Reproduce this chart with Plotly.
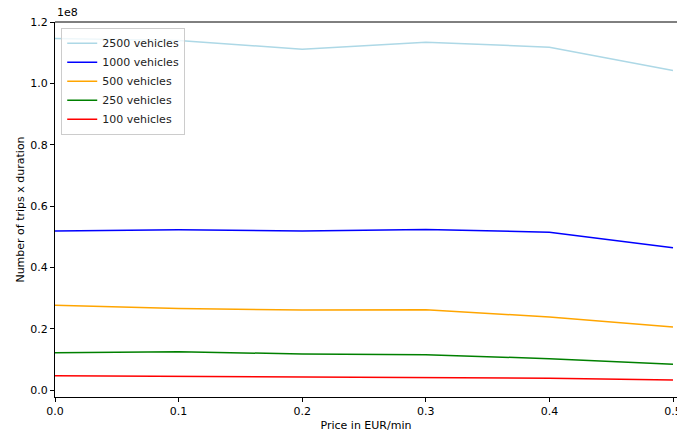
import plotly.graph_objects as go

prices = [0.0, 0.1, 0.2, 0.3, 0.4, 0.5]
series_names = ["2500 vehicles", "1000 vehicles", "500 vehicles", "250 vehicles", "100 vehicles"]
series_colors = ["lightblue", "blue", "orange", "green", "red"]
v2500 = [1.146e8, 1.140e8, 1.111e8, 1.134e8, 1.118e8, 1.042e8]
v1000 = [0.519e8, 0.523e8, 0.519e8, 0.524e8, 0.515e8, 0.464e8]
v500 = [0.277e8, 0.266e8, 0.2614e8, 0.2624e8, 0.2386e8, 0.206e8]
v250 = [0.1224e8, 0.1257e8, 0.118e8, 0.1159e8, 0.1029e8, 0.0846e8]
v100 = [0.0475e8, 0.0455e8, 0.042e8, 0.042e8, 0.039e8, 0.0335e8]
series_values = [v2500, v1000, v500, v250, v100]

yticks = [0.0, 0.2e8, 0.4e8, 0.6e8, 0.8e8, 1.0e8, 1.2e8]
ytick_labels = ["0.0", "0.2", "0.4", "0.6", "0.8", "1.0", "1.2"]
xticks = [0.0, 0.1, 0.2, 0.3, 0.4, 0.5]
xtick_labels = ["0.0", "0.1", "0.2", "0.3", "0.4", "0.5"]

fig = go.Figure()
for name, color, vals in zip(series_names, series_colors, series_values):
    fig.add_trace(go.Scatter(x=prices, y=vals, mode="lines", name=name,
                             line=dict(color=color, width=1.5)))

font = dict(family="DejaVu Sans", size=11, color="black")
fig.update_layout(
    width=677, height=435,
    margin=dict(l=55, r=0, t=22, b=38),
    paper_bgcolor="white", plot_bgcolor="white",
    font=font,
    showlegend=True,
    legend=dict(x=0.01, y=0.985, xanchor="left", yanchor="top",
                bgcolor="rgba(255,255,255,0.8)", bordercolor="#cccccc", borderwidth=1,
                font=dict(family="DejaVu Sans", size=11, color="#222"),
                tracegroupgap=0, itemwidth=30),
    xaxis=dict(range=[0, 0.50324], tickvals=xticks, ticktext=xtick_labels,
               showgrid=False, zeroline=False, showline=True, linecolor="black",
               linewidth=1, ticks="outside", ticklen=4, tickcolor="black",
               automargin=False, ticklabeloverflow="allow",
               title=dict(text="Price in EUR/min", font=dict(size=11), standoff=4)),
    yaxis=dict(range=[-0.022e8, 1.2e8], tickvals=yticks, ticktext=ytick_labels,
               showgrid=False, zeroline=False, showline=True, linecolor="black",
               linewidth=1, ticks="outside", ticklen=4, tickcolor="black",
               automargin=False, ticklabeloverflow="allow",
               title=dict(text="Number of trips x duration", font=dict(size=11), standoff=3)),
    shapes=[dict(type="line", xref="paper", yref="paper", x0=0, x1=1, y0=1, y1=1,
                 line=dict(color="black", width=1))],
    annotations=[dict(text="1e8", x=0, y=1.0, xref="paper", yref="paper",
                      xanchor="left", yanchor="bottom", showarrow=False,
                      font=dict(family="DejaVu Sans", size=11, color="black"), yshift=1)],
)

fig.write_html("out.html", config={"displayModeBar": False},
               post_script="document.body.style.margin='0';document.body.style.overflow='hidden';")
